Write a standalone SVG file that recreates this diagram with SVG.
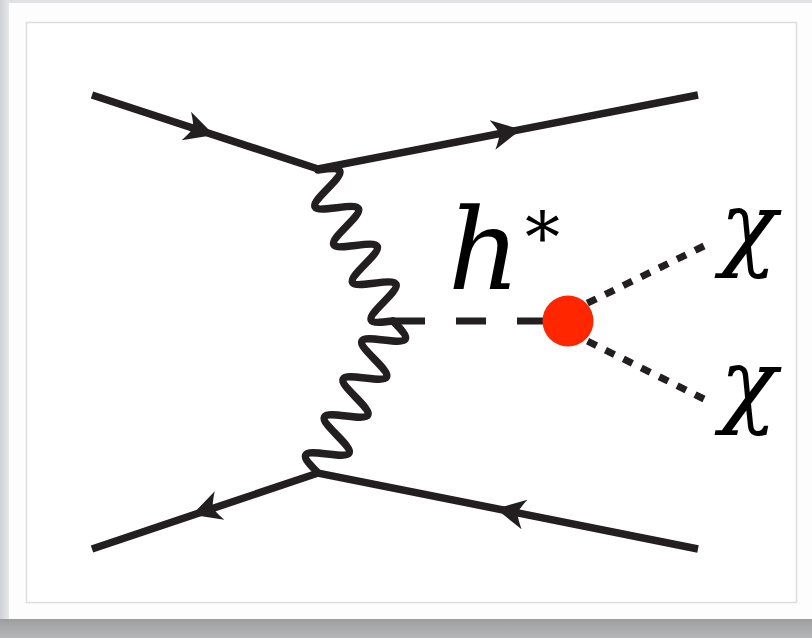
<svg xmlns="http://www.w3.org/2000/svg" xmlns:xlink="http://www.w3.org/1999/xlink" width="812" height="638" viewBox="0 0 812 638">
  <defs>
    <linearGradient id="shadowB" x1="0" y1="0" x2="0" y2="1">
      <stop offset="0" stop-color="#9c9d9f"/>
      <stop offset="0.35" stop-color="#a6a7a9"/>
      <stop offset="1" stop-color="#b5b6b8"/>
    </linearGradient>
    <linearGradient id="shadowL" x1="0" y1="0" x2="1" y2="0">
      <stop offset="0" stop-color="#cfd1d4"/>
      <stop offset="1" stop-color="#e6e7e9"/>
    </linearGradient>
    <path id="arr" d="M1,0 L-28,-15 Q-22,-5 -21,0 Q-22,5 -28,15 Z"/>
    <path id="wave" d="M0,0 c3.437,-9.734 6.726,-19 10.54,-19 c3.814,0 7.103,9.266 10.54,19 c3.437,9.734 6.726,19 10.54,19 c3.814,0 7.103,-9.266 10.54,-19 c3.437,-9.734 6.726,-19 10.54,-19 c3.814,0 7.103,9.266 10.54,19 c3.437,9.734 6.726,19 10.54,19 c3.814,0 7.103,-9.266 10.54,-19 c3.437,-9.734 6.726,-19 10.54,-19 c3.814,0 7.103,9.266 10.54,19 c3.437,9.734 6.726,19 10.54,19 c3.814,0 7.103,-9.266 10.54,-19 c3.437,-9.734 6.726,-19 10.54,-19 c3.814,0 7.103,9.266 10.54,19 c3.437,9.734 6.726,19 10.54,19 c3.814,0 7.103,-9.266 10.54,-19"/>
  </defs>
  <style>
    .fermion { fill: none; stroke: #231f20; stroke-width: 7.5; stroke-linejoin: miter; }
    .photon { fill: none; stroke: #231f20; stroke-width: 7.5; stroke-linejoin: round; stroke-linecap: round; }
    .scalar { fill: none; stroke: #231f20; stroke-width: 7; stroke-dasharray: 30 31; }
    .dm { fill: none; stroke: #231f20; stroke-width: 7; stroke-dasharray: 10 10; }
    .ah { fill: #231f20; }
    .lbl { font-family: "DejaVu Serif", serif; font-style: italic; fill: #000; }
  </style>

  <!-- page / card background -->
  <rect x="0" y="0" width="812" height="638" fill="#dfe1e4"/>
  <rect x="0" y="0" width="9" height="620" fill="url(#shadowL)"/>
  <rect x="0" y="619" width="812" height="19" fill="url(#shadowB)"/>
  <rect x="9" y="3" width="803" height="616" fill="#fdfdfd"/>
  <rect x="26.5" y="22.5" width="770" height="580" fill="#ffffff" stroke="#dedede" stroke-width="1.5"/>

  <!-- connectors -->
  <g id="connectors">
    <path class="fermion" d="M92,95 L318,169 L698,95"/>
    <path class="fermion" d="M92,549 L318,473 L698,549"/>
    <use href="#arr" class="ah" transform="translate(213,134.6) rotate(18.13)"/>
    <use href="#arr" class="ah" transform="translate(520,129.7) rotate(-11.02)"/>
    <use href="#arr" class="ah" transform="translate(193,514.5) rotate(161.4)"/>
    <use href="#arr" class="ah" transform="translate(497,509) rotate(-168.7)"/>
    <use href="#wave" class="photon" transform="translate(318,170) rotate(63.6)"/>
    <use href="#wave" class="photon" transform="translate(393,321) rotate(116.26) scale(1.005,1)"/>
    <line class="scalar" x1="395" y1="321" x2="560" y2="321"/>
    <line class="dm" x1="704" y1="246" x2="549" y2="322"/>
    <line class="dm" x1="704" y1="399" x2="549" y2="322"/>
  </g>

  <g id="blob">
    <circle cx="568" cy="321" r="25.5" fill="#ff2600"/>
  </g>

  <g id="label-h">
    <text class="lbl" x="448" y="289" font-size="112">h</text>
    <text x="525" y="262" font-family="DejaVu Serif, serif" font-size="70" fill="#000">*</text>
  </g>
  <g id="label-chi1">
    <text class="lbl" x="720" y="259" font-size="94">χ</text>
  </g>
  <g id="label-chi2">
    <text class="lbl" x="720" y="416" font-size="94">χ</text>
  </g>
</svg>
